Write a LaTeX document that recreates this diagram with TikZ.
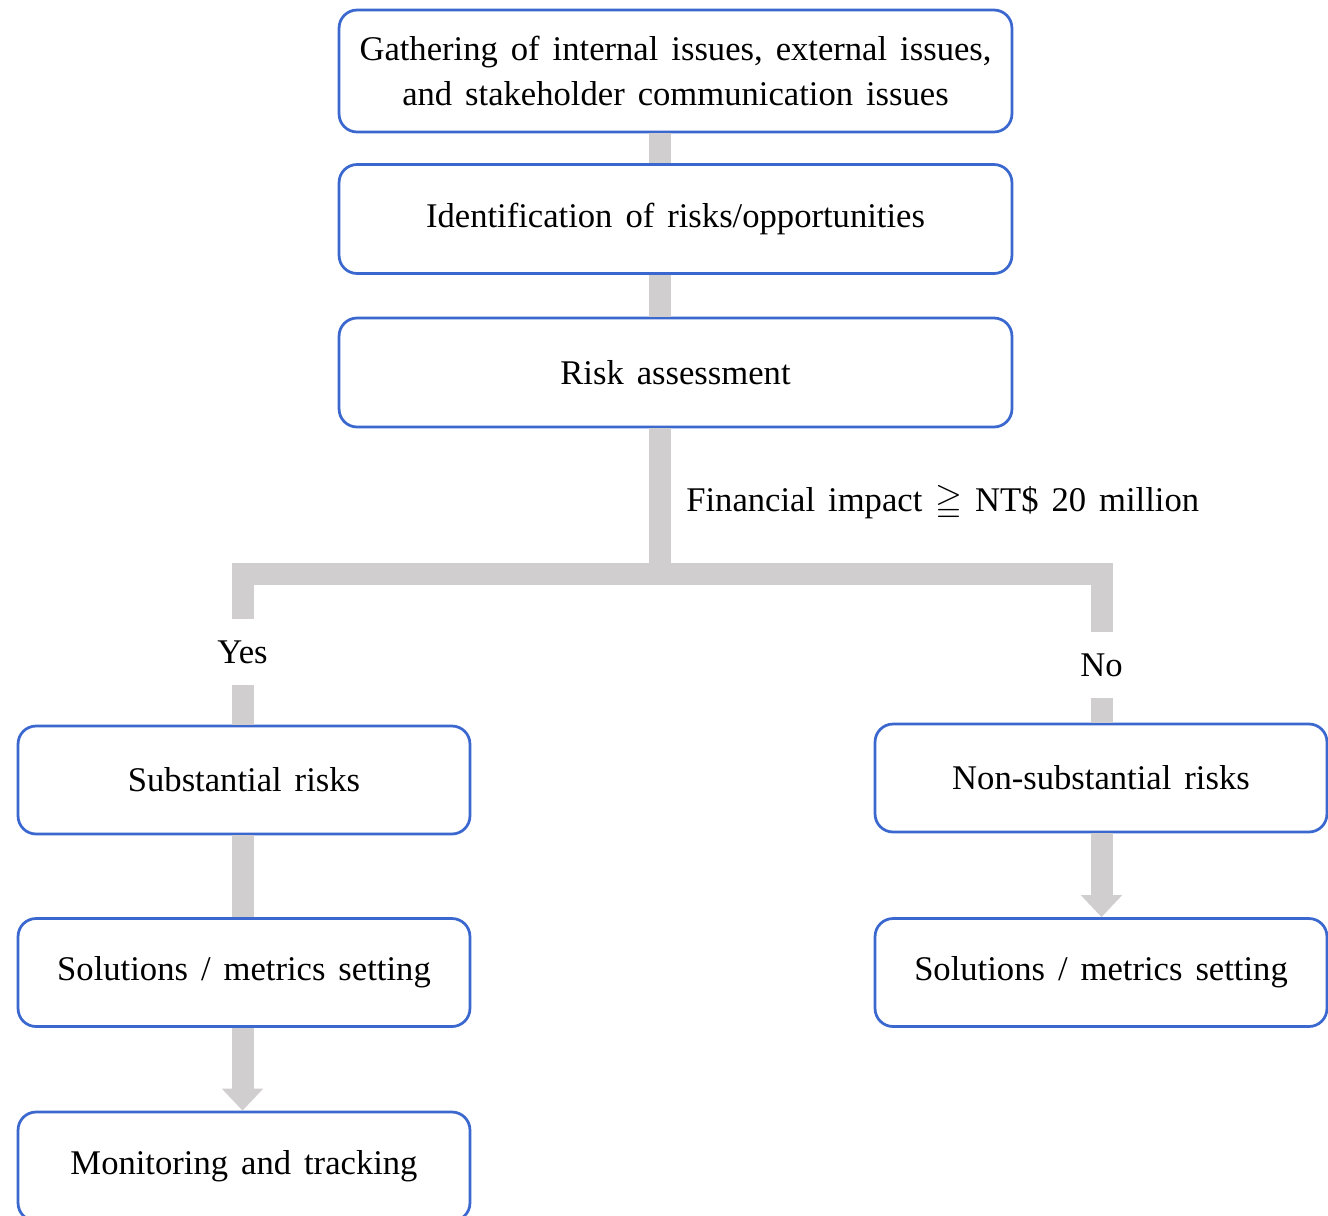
\documentclass[tikz,border=0pt]{standalone}
\usepackage{amssymb}
\usepackage{fontspec}
\setmainfont[WordSpace=1.5]{Liberation Serif}
\usetikzlibrary{arrows.meta}
\definecolor{boxblue}{RGB}{59,104,207}
\definecolor{bargray}{RGB}{208,206,207}
\begin{document}
\begin{tikzpicture}[
        x=0.02cm, y=-0.02cm,
        % global font
        font=\fontsize{19.7}{25.6}\selectfont,
        % step boxes: blue rounded frame, white fill
        stepbox/.style={
            rectangle,
            draw=boxblue,
            fill=white,
            line width=0.055cm,
            rounded corners=0.36cm,
            align=center,
            inner sep=0pt
        },
        wide_box/.style={stepbox, minimum width=13.46cm, minimum height=2.18cm},
        side_box/.style={stepbox, minimum width=9.04cm, minimum height=2.16cm},
        % grey bars between the boxes
        bar/.style={
            draw=bargray,
            line width=0.44cm,
            line join=miter
        },
        bar_arrow/.style={
            bar,
            -{Triangle[width=0.8cm,length=0.44cm]}
        },
        % Yes / No labels sitting in a gap of the bar
        branch_label/.style={
            inner sep=0pt,
            minimum height=1.32cm
        }
    ]
        \useasboundingbox (0,0) rectangle (1328,1215);

        % ==========================
        % Top: three steps
        % ==========================
        \node[wide_box, minimum height=2.44cm] (gather) at (675.5,71)
            {Gathering of internal issues, external issues,\\and stakeholder communication issues};
        \node[wide_box] (ident) at (675.5,219) {Identification of risks/opportunities};
        \node[wide_box] (assess) at (675.5,372.5) {Risk assessment};

        % 1. spine and fork points
        \coordinate (fork) at (659.5,573.5);
        \coordinate (forkL) at (242.5,573.5);
        \coordinate (forkR) at (1101.5,573.5);

        \draw[bar] (gather.south -| fork) -- (ident.north -| fork);
        \draw[bar] (ident.south -| fork) -- (assess.north -| fork);
        \draw[bar] (assess.south -| fork) -- (fork);

        % 2. condition
        \node[anchor=west, inner sep=0pt] (cond) at (686,503)
            {Financial impact $\geqq$ NT\$ 20 million};

        % ==========================
        % Left branch: Yes
        % ==========================
        \node[branch_label] (yes) at (242.5,652) {Yes};
        \node[side_box] (sub) at (244,780) {Substantial risks};
        \node[side_box] (solL) at (244,972.5) {Solutions / metrics setting};
        \node[side_box, minimum height=2.18cm] (mon) at (244,1166.5) {Monitoring and tracking};

        % ==========================
        % Right branch: No
        % ==========================
        \node[branch_label] (no) at (1101.5,665) {No};
        \node[side_box] (nonsub) at (1101,778) {Non-substantial risks};
        \node[side_box] (solR) at (1101,972.5) {Solutions / metrics setting};

        % 3. fork bars
        \draw[bar] (yes.north) -- (forkL) -- (forkR) -- (no.north);
        \draw[bar] (yes.south) -- (yes.south |- sub.north);
        \draw[bar] (no.south) -- (no.south |- nonsub.north);

        % 4. bars and arrows down the columns
        \draw[bar] (sub.south -| yes) -- (solL.north -| yes);
        \draw[bar_arrow] (solL.south -| yes) -- (mon.north -| yes);
        \draw[bar_arrow] (nonsub.south -| no) -- (solR.north -| no);
    \end{tikzpicture}
\end{document}
